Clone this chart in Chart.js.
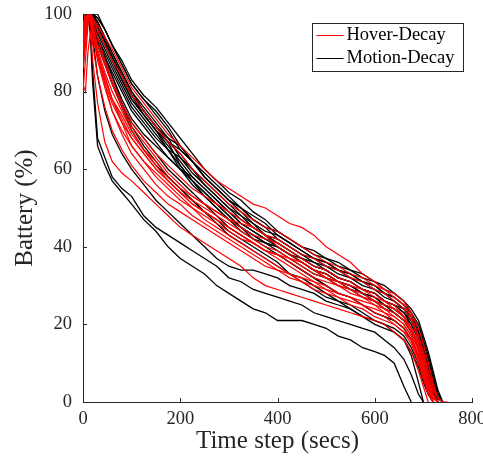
<!DOCTYPE html>
<html><head><meta charset="utf-8">
<script src="https://cdn.jsdelivr.net/npm/chart.js@4/dist/chart.umd.min.js"></script>
<style>html,body{margin:0;padding:0;background:#fff;overflow:hidden}</style>
</head><body>
<canvas id="c" width="483" height="463"></canvas>
<script>
const timeSteps = [0,5,10,15,20,30,45,60,80,100,125,150,175,200,225,250,275,300,325,350,375,400,425,450,475,500,525,550,575,600,620,640,660,675,690,700,710,720,730,740,750];
const xTicks = [0,200,400,600,800];
const yTicks = [0,20,40,60,80,100];
const legendLabels = ['Hover-Decay','Motion-Decay'];
const xTitle = 'Time step (secs)';
const yTitle = 'Battery (%)';

// Hover-Decay runs (battery % at each entry of timeSteps)
const hover1 = [95,100,100,100,99,97,94,91,86,81,77,73,69,66,63,60,57,55,53,51,50,48,46,45,43,40,38,36,33,31,29,28,26,23,19,15,10,5,1,0];
const hover2 = [92,98,100,100,97,92,87,82,76,71,67,63,59,56,53,51,49,47,45,43,42,41,39,37,35,34,32,31,29,28,26,25,22,18,13,9,5,1,0];
const hover3 = [80,88,97,100,95,89,84,78,72,66,62,58,55,52,50,48,46,44,42,41,39,38,37,35,33,32,30,29,27,26,24,22,20,17,12,8,4,1,0];
const hover4 = [93,97,100,99,95,89,82,77,72,68,64,60,57,54,51,49,47,45,43,41,39,37,35,33,31,30,28,27,25,24,23,21,19,16,11,7,3,0];
const hover5 = [82,80,90,95,88,77,67,62,59,57,54,51,48,45,43,41,39,37,35,32,30,29,28,27,26,25,24,23,22,21,20,18,16,13,8,4,0];
const hover6 = [90,95,100,98,92,84,76,70,65,61,57,54,51,49,47,45,43,41,39,37,35,34,32,31,30,29,27,26,25,23,22,20,18,15,10,6,2,0];
const hover7 = [96,100,100,100,98,94,88,83,77,72,68,64,61,58,55,53,51,49,47,45,43,42,40,38,37,35,34,32,31,29,28,26,24,21,16,12,7,3,1,0,0];
const hover8 = [94,99,100,99,95,90,84,78,73,68,64,60,57,54,51,49,47,45,43,41,39,38,36,34,32,31,30,28,27,25,24,23,21,18,14,10,5,2,0];
const hover9 = [88,93,99,100,96,91,85,80,75,70,65,61,57,54,52,50,48,46,44,42,40,39,37,36,34,33,31,30,29,27,26,24,22,19,15,11,6,2,0];
const hover10 = [91,96,100,100,96,90,82,75,69,64,60,56,53,51,48,46,44,42,40,38,36,34,33,32,31,29,28,27,26,25,23,22,20,17,12,8,4,0];
const hover11 = [97,100,100,100,99,96,92,88,84,79,75,71,67,64,60,57,54,51,49,47,45,44,42,40,38,36,35,33,32,30,29,27,25,22,17,13,8,4,1,0];
const hover12 = [86,92,98,100,95,88,81,75,70,66,62,59,56,53,50,47,45,43,41,39,37,35,33,31,29,28,27,25,24,22,21,20,18,16,11,7,3,0];
const hover13 = [93,97,100,100,95,89,83,78,74,69,65,62,58,55,53,51,49,47,46,45,43,40,38,36,34,32,31,29,28,26,25,24,22,19,14,9,5,1,0];

// Motion-Decay runs
const motion1 = [97,100,100,100,100,99,96,92,88,83,79,76,72,68,64,60,57,54,52,49,47,44,42,40,39,37,36,34,33,31,30,28,26,23,19,15,10,5,1,0];
const motion2 = [92,98,100,100,100,100,96,92,87,82,78,74,70,65,62,58,55,52,50,47,45,42,40,38,37,35,34,32,31,29,28,26,24,21,17,13,8,3,0];
const motion3 = [100,100,100,100,99,97,93,89,84,79,75,71,68,66,62,59,56,53,50,48,46,43,41,39,37,36,34,33,31,30,28,27,25,23,20,16,12,7,2,0];
const motion4 = [96,100,100,100,100,98,94,90,85,80,76,72,68,63,60,56,53,50,48,45,43,41,39,37,36,34,32,31,29,28,26,25,23,20,16,12,7,3,0];
const motion5 = [94,99,100,100,99,96,92,88,83,78,74,70,67,64,60,57,54,51,48,46,44,43,41,39,37,36,34,33,31,30,28,27,25,22,19,15,11,6,2,0];
const motion6 = [90,97,100,100,97,93,89,84,78,73,69,66,63,60,58,55,52,49,46,44,42,41,39,37,35,34,32,31,29,28,26,25,23,21,17,13,8,4,0];
const motion7 = [98,100,100,100,100,98,94,90,85,80,75,71,67,61,57,54,51,48,45,43,41,39,37,35,33,32,30,29,27,26,24,23,21,18,14,10,6,2,0];
const motion8 = [95,99,100,100,99,96,92,88,83,78,74,70,66,62,58,55,52,49,46,44,42,40,38,36,34,33,31,30,28,27,25,24,22,19,15,12,7,3,0];
const motion9 = [88,96,100,100,97,94,90,86,81,76,72,68,65,63,59,56,53,50,47,45,43,42,40,38,36,35,33,32,30,29,27,26,24,22,18,15,10,5,1,0];
const motion10 = [97,100,100,100,100,97,93,89,84,79,74,70,65,60,56,53,50,47,44,42,40,38,36,34,32,30,28,27,25,23,22,21,19,16,12,8,4,1,0];
const motion11 = [93,98,100,100,98,95,91,87,82,77,73,69,65,61,57,54,51,48,45,43,41,40,38,36,34,33,31,30,28,27,25,24,22,20,17,13,9,4,1,0];
const motion12 = [91,97,100,99,96,92,87,82,77,72,68,64,60,57,54,51,48,45,43,41,39,38,36,34,32,30,28,27,25,23,22,21,19,16,12,8,4,0];
const motion13 = [95,99,100,100,98,94,89,84,77,71,66,62,58,55,52,49,47,44,42,40,38,36,33,31,29,27,26,24,22,20,19,18,16,13,9,5,2,0];
const motion14 = [99,100,100,100,100,99,96,92,87,82,78,75,71,66,62,58,55,52,49,46,43,40,38,36,34,32,31,29,28,26,25,23,21,18,14,11,6,2,0];
const motion15 = [85,95,100,99,97,93,89,85,80,75,71,67,63,60,57,53,50,47,45,42,41,40,38,37,35,34,32,31,29,28,26,25,24,21,18,14,10,5,1,0];
const motion16 = [96,100,100,100,100,97,93,89,84,79,75,71,67,65,62,58,55,52,50,47,45,44,42,40,38,37,35,34,32,31,29,28,26,24,21,17,13,8,3,0];
const motion17 = [92,98,100,100,97,93,88,82,76,70,65,61,58,55,52,49,46,43,41,39,37,35,33,32,30,28,26,25,23,21,20,19,17,14,10,6,2,0];
const motion18 = [97,100,100,95,82,66,61,57,54,51,47,44,40,37,35,33,30,28,26,24,23,21,21,21,20,19,17,16,14,13,12,10,4,0];
const motion19 = [98,100,100,97,85,68,63,58,55,53,48,45,43,41,39,37,35,32,31,29,28,27,26,25,23,22,21,20,19,18,16,14,11,7,2,0];
const motion20 = [100,100,100,99,94,84,75,69,64,60,56,52,49,46,43,40,37,35,34,34,33,32,30,29,28,26,25,24,22,21,20,18,16,12,5,0];

const hoverRuns = [hover1,hover2,hover3,hover4,hover5,hover6,hover7,hover8,hover9,hover10,hover11,hover12,hover13];
const motionRuns = [motion1,motion2,motion3,motion4,motion5,motion6,motion7,motion8,motion9,motion10,motion11,motion12,motion13,motion14,motion15,motion16,motion17,motion18,motion19,motion20];

const hoverColor = '#ff0000';
const motionColor = '#000000';
const axisColor = '#262626';
const serif = "'Liberation Serif', 'DejaVu Serif', serif";

function toPoints(run){ return run.map((v,i)=>({x: timeSteps[i], y: v})); }
const datasets = [];
hoverRuns.forEach(r=>datasets.push({label: legendLabels[0], data: toPoints(r), borderColor: hoverColor, borderWidth: 1.2, pointRadius: 0, fill: false, tension: 0}));
motionRuns.forEach(r=>datasets.push({label: legendLabels[1], data: toPoints(r), borderColor: motionColor, borderWidth: 1.3, pointRadius: 0, fill: false, tension: 0}));

const overlay = {
  id: 'overlay',
  afterDraw(chart){
    const {ctx, chartArea: a, scales: {x, y}} = chart;
    ctx.save();
    ctx.strokeStyle = axisColor; ctx.lineWidth = 1;
    ctx.beginPath();
    x.ticks.forEach(t=>{ const px = Math.round(x.getPixelForValue(t.value)) + 0.5; ctx.moveTo(px, a.bottom); ctx.lineTo(px, a.bottom - 4); });
    y.ticks.forEach(t=>{ const py = Math.round(y.getPixelForValue(t.value)) + 0.5; ctx.moveTo(a.left, py); ctx.lineTo(a.left + 4, py); });
    ctx.stroke();
    // legend
    const bx = Math.round(a.right - 160) + 0.5, by = Math.round(a.top + 9) + 0.5, bw = 151, bh = 48;
    ctx.fillStyle = '#fff'; ctx.fillRect(bx, by, bw, bh);
    ctx.strokeStyle = axisColor; ctx.strokeRect(bx, by, bw, bh);
    const colors = [hoverColor, motionColor];
    legendLabels.forEach((lab, i)=>{
      const ly = by + 12 + i * 23;
      ctx.strokeStyle = colors[i]; ctx.lineWidth = 1;
      ctx.beginPath(); ctx.moveTo(bx + 4, ly); ctx.lineTo(bx + 31, ly); ctx.stroke();
      ctx.fillStyle = '#000'; ctx.font = '18.5px ' + serif; ctx.textBaseline = 'middle'; ctx.textAlign = 'left';
      ctx.fillText(lab, bx + 34, ly - 0.5);
    });
    ctx.restore();
  }
};

new Chart(document.getElementById('c'), {
  type: 'line',
  data: { datasets },
  options: {
    responsive: false, animation: false, devicePixelRatio: 1,
    layout: { padding: { top: 14, right: 11, left: 0, bottom: 0 } },
    plugins: { legend: { display: false }, tooltip: { enabled: false } },
    scales: {
      x: {
        type: 'linear', min: 0, max: 800,
        afterBuildTicks: s => { s.ticks = xTicks.map(v => ({ value: v })); },
        grid: { display: false, drawTicks: false },
        border: { display: true, color: axisColor, width: 1 },
        ticks: { color: axisColor, font: { family: serif, size: 18.5 }, padding: 6, maxRotation: 0, autoSkip: false },
        title: { display: true, text: xTitle, color: axisColor, font: { family: serif, size: 25 }, padding: { top: 0, bottom: 7 } },
        afterFit: s => { s.height = 61; s.paddingLeft = 0; s.paddingRight = 0; }
      },
      y: {
        type: 'linear', min: 0, max: 100,
        afterBuildTicks: s => { s.ticks = yTicks.map(v => ({ value: v })); },
        grid: { display: false, drawTicks: false },
        border: { display: true, color: axisColor, width: 1 },
        ticks: { color: axisColor, font: { family: serif, size: 18.5 }, padding: 11, autoSkip: false },
        title: { display: true, text: yTitle, color: axisColor, font: { family: serif, size: 25 }, padding: { top: 10, bottom: 0 } },
        afterFit: s => { s.width = 83; s.paddingTop = 0; s.paddingBottom = 0; }
      }
    }
  },
  plugins: [overlay]
});
</script>
</body></html>
